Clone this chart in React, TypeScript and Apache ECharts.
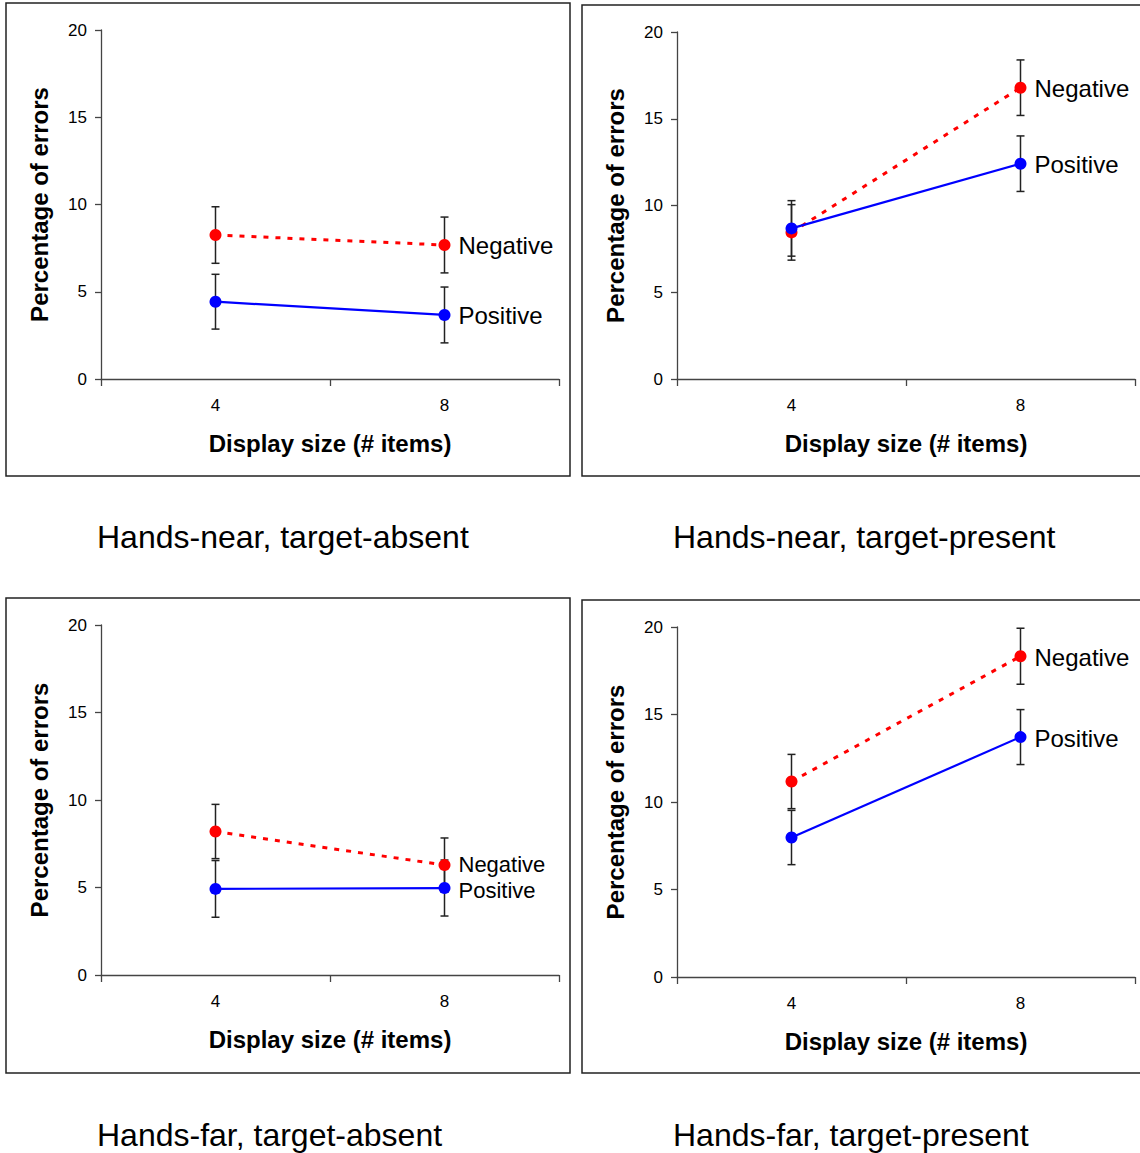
import React, { useEffect, useRef } from "react";
import * as echarts from "echarts";

// Display-size categories on the x axis
const categories = ["4", "8"];
const yTicks = { min: 0, max: 20, interval: 5 };

const panelTitles = [
  "Hands-near, target-absent",
  "Hands-near, target-present",
  "Hands-far, target-absent",
  "Hands-far, target-present",
];

// Mean percentage of errors per display size, with standard errors
const nearAbsentNegative = [8.25, 7.68];
const nearAbsentNegativeErr = [1.62, 1.6];
const nearAbsentPositive = [4.43, 3.67];
const nearAbsentPositiveErr = [1.57, 1.6];

const nearPresentNegative = [8.45, 16.79];
const nearPresentNegativeErr = [1.6, 1.6];
const nearPresentPositive = [8.68, 12.41];
const nearPresentPositiveErr = [1.6, 1.6];

const farAbsentNegative = [8.2, 6.28];
const farAbsentNegativeErr = [1.55, 1.55];
const farAbsentPositive = [4.92, 4.97];
const farAbsentPositiveErr = [1.62, 1.6];

const farPresentNegative = [11.17, 18.33];
const farPresentNegativeErr = [1.55, 1.6];
const farPresentPositive = [7.97, 13.71];
const farPresentPositiveErr = [1.55, 1.57];

const FONT = "'Liberation Sans', Arial, Helvetica, sans-serif";
const AXIS_COLOR = "#444";
const BAR_COLOR = "#222";

const panels = [
  {
    title: panelTitles[0],
    neg: nearAbsentNegative, negErr: nearAbsentNegativeErr,
    pos: nearAbsentPositive, posErr: nearAbsentPositiveErr,
    grid: { left: 101, top: 30, width: 458, height: 349 },
    box: { x: 6, y: 3, width: 564, height: 473 },
    titleAt: { x: 97, y: 537 },
    label: { size: 24, negDy: 1, posDy: 1 },
  },
  {
    title: panelTitles[1],
    neg: nearPresentNegative, negErr: nearPresentNegativeErr,
    pos: nearPresentPositive, posErr: nearPresentPositiveErr,
    grid: { left: 677, top: 32, width: 458, height: 347 },
    box: { x: 582, y: 5, width: 570, height: 471 },
    titleAt: { x: 673, y: 537 },
    label: { size: 24, negDy: 1, posDy: 1 },
  },
  {
    title: panelTitles[2],
    neg: farAbsentNegative, negErr: farAbsentNegativeErr,
    pos: farAbsentPositive, posErr: farAbsentPositiveErr,
    grid: { left: 101, top: 625, width: 458, height: 350 },
    box: { x: 6, y: 598, width: 564, height: 475 },
    titleAt: { x: 97, y: 1135 },
    // the two end labels sit close together here
    label: { size: 22, negDy: -1, posDy: 2 },
  },
  {
    title: panelTitles[3],
    neg: farPresentNegative, negErr: farPresentNegativeErr,
    pos: farPresentPositive, posErr: farPresentPositiveErr,
    grid: { left: 677, top: 627, width: 458, height: 350 },
    box: { x: 582, y: 600, width: 570, height: 473 },
    titleAt: { x: 673, y: 1135 },
    label: { size: 24, negDy: 1, posDy: 1 },
  },
];

// Vertical error bar with caps, drawn through the axes' own scales
function renderErrorBar(_params: any, api: any) {
  const idx = api.value(0);
  const low = api.coord([idx, api.value(1)]);
  const high = api.coord([idx, api.value(2)]);
  const cap = 4;
  const style = { stroke: BAR_COLOR, lineWidth: 1.5 };
  return {
    type: "group",
    children: [
      { type: "line", shape: { x1: low[0], y1: low[1], x2: high[0], y2: high[1] }, style },
      { type: "line", shape: { x1: low[0] - cap, y1: low[1], x2: low[0] + cap, y2: low[1] }, style },
      { type: "line", shape: { x1: high[0] - cap, y1: high[1], x2: high[0] + cap, y2: high[1] }, style },
    ],
  };
}

function errorData(means: number[], errs: number[]) {
  return means.map((m, j) => [j, m - errs[j], m + errs[j]]);
}

function lineData(values: number[], name: string, size: number, dy: number) {
  const last = values.length - 1;
  return values.map((v, j) =>
    j === last
      ? {
          value: v,
          label: {
            show: true,
            position: "right",
            distance: 8,
            offset: [0, dy],
            formatter: name,
            fontFamily: FONT,
            fontSize: size,
            lineHeight: size - 2,
            color: "#000",
          },
        }
      : v
  );
}

function buildOption() {
  const grid: any[] = [];
  const xAxis: any[] = [];
  const yAxis: any[] = [];
  const series: any[] = [];
  const graphic: any[] = [];

  panels.forEach((p, i) => {
    grid.push({ ...p.grid, containLabel: false });
    xAxis.push({
      type: "category",
      gridIndex: i,
      data: categories,
      boundaryGap: true,
      axisLine: { lineStyle: { color: AXIS_COLOR, width: 1.3 } },
      axisTick: { show: true, length: 7, lineStyle: { color: AXIS_COLOR, width: 1.3 } },
      axisLabel: { fontFamily: FONT, fontSize: 17, color: "#000", margin: 18 },
      name: "Display size (# items)",
      nameLocation: "middle",
      nameGap: 52,
      nameTextStyle: { fontFamily: FONT, fontSize: 24, fontWeight: "bold", color: "#000" },
      splitLine: { show: false },
    });
    yAxis.push({
      type: "value",
      gridIndex: i,
      min: yTicks.min,
      max: yTicks.max,
      interval: yTicks.interval,
      axisLine: { show: true, lineStyle: { color: AXIS_COLOR, width: 1.3 } },
      axisTick: { show: true, length: 6, lineStyle: { color: AXIS_COLOR, width: 1.3 } },
      axisLabel: { fontFamily: FONT, fontSize: 17, color: "#000", margin: 14 },
      splitLine: { show: false },
      name: "Percentage of errors",
      nameLocation: "middle",
      nameRotate: 90,
      nameGap: 50,
      nameTextStyle: { fontFamily: FONT, fontSize: 24, fontWeight: "bold", color: "#000" },
    });

    series.push(
      {
        type: "custom",
        name: "Negative SE",
        xAxisIndex: i,
        yAxisIndex: i,
        renderItem: renderErrorBar,
        encode: { x: 0, y: [1, 2] },
        data: errorData(p.neg, p.negErr),
        z: 1,
      },
      {
        type: "custom",
        name: "Positive SE",
        xAxisIndex: i,
        yAxisIndex: i,
        renderItem: renderErrorBar,
        encode: { x: 0, y: [1, 2] },
        data: errorData(p.pos, p.posErr),
        z: 1,
      },
      {
        type: "line",
        name: "Negative",
        xAxisIndex: i,
        yAxisIndex: i,
        data: lineData(p.neg, "Negative", p.label.size, p.label.negDy),
        symbol: "circle",
        symbolSize: 12,
        itemStyle: { color: "#ff0000" },
        lineStyle: { color: "#ff0000", width: 3, type: [5, 7] },
        z: 3,
      },
      {
        type: "line",
        name: "Positive",
        xAxisIndex: i,
        yAxisIndex: i,
        data: lineData(p.pos, "Positive", p.label.size, p.label.posDy),
        symbol: "circle",
        symbolSize: 12,
        itemStyle: { color: "#0000ff" },
        lineStyle: { color: "#0000ff", width: 2.2, type: "solid" },
        z: 4,
      }
    );

    graphic.push({
      type: "rect",
      shape: { ...p.box },
      style: { fill: "none", stroke: "#222", lineWidth: 1.5 },
      z: 0,
    });
    graphic.push({
      type: "text",
      x: p.titleAt.x,
      y: p.titleAt.y,
      style: {
        text: p.title,
        font: `32px ${FONT}`,
        fill: "#000",
        verticalAlign: "middle",
        align: "left",
      },
    });
  });

  return {
    animation: false,
    backgroundColor: "#ffffff",
    grid,
    xAxis,
    yAxis,
    series,
    graphic,
    tooltip: { show: false },
  };
}

export default function App() {
  const ref = useRef<HTMLDivElement>(null);
  useEffect(() => {
    if (!ref.current) return;
    const chart = echarts.init(ref.current, null, { renderer: "svg" });
    chart.setOption(buildOption() as any);
    return () => chart.dispose();
  }, []);
  return (
    <div
      ref={ref}
      style={{ position: "absolute", left: 0, top: 0, width: 1140, height: 1153, background: "#fff" }}
    />
  );
}
